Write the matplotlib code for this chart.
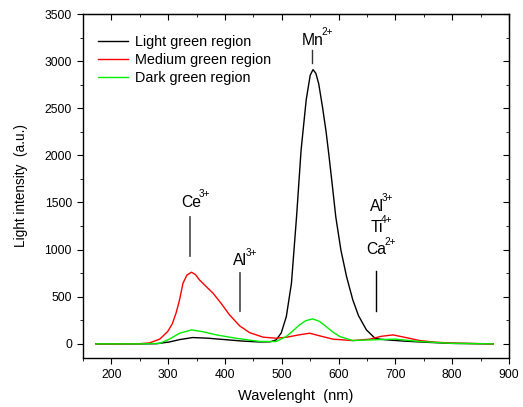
import matplotlib
matplotlib.use('Agg')
import matplotlib.pyplot as plt
from matplotlib.ticker import MultipleLocator

plt.rcParams['font.family'] = ['Liberation Sans', 'DejaVu Sans']

# Light green region (black)
wl_light = [173, 200, 250, 280, 302, 320, 343, 370, 400, 430, 461, 480, 490, 499, 508,
            517, 526, 534, 543, 550, 555, 560, 565, 572, 578, 583, 589, 595, 604, 614, 625,
            635, 649, 664, 672, 690, 713, 750, 800, 872]
int_light = [0, 0, 0, 2, 20, 45, 67, 60, 45, 30, 20, 22, 42, 115, 290,
             643, 1350, 2058, 2590, 2850, 2910, 2870, 2760, 2500, 2250, 2000, 1680, 1350, 997, 714, 467,
             300, 148, 60, 50, 40, 30, 18, 5, 0]

# Medium green region (red)
wl_medium = [173, 200, 250, 267, 285, 299, 307, 314, 320, 326, 333, 341, 348, 355, 361, 370,
             379, 393, 408, 426, 443, 467, 490, 508, 530, 549, 570, 590, 625, 655, 675,
             696, 720, 743, 770, 801, 872]
int_medium = [0, 0, 2, 10, 50, 130, 210, 330, 467, 643, 730, 760, 735, 679, 643, 590,
              537, 431, 307, 190, 120, 71, 60, 70, 95, 113, 80, 50, 35, 50, 80,
              95, 65, 35, 18, 8, 0]

# Dark green region (green)
wl_dark = [173, 200, 250, 285, 302, 320, 341, 360, 385, 419, 461, 490, 508, 520, 531,
           542, 554, 566, 578, 590, 602, 625, 655, 700, 743, 800, 872]
int_dark = [0, 0, 0, 5, 50, 113, 148, 130, 95, 60, 25, 25, 78, 140, 200,
            245, 265, 240, 184, 125, 78, 35, 42, 50, 25, 5, 0]

fig = plt.figure(figsize=(5.23, 4.07), dpi=100)
ax = fig.add_axes([0.1587, 0.1204, 0.8145, 0.8452])

ax.plot(wl_light, int_light, color='black', lw=1.0, label='Light green region')
ax.plot(wl_medium, int_medium, color='red', lw=1.0, label='Medium green region')
ax.plot(wl_dark, int_dark, color='#00ee00', lw=1.0, label='Dark green region')

ax.set_xlim(150, 900)
ax.set_ylim(-150, 3500)
ax.xaxis.set_major_locator(MultipleLocator(100))
ax.xaxis.set_minor_locator(MultipleLocator(50))
ax.yaxis.set_major_locator(MultipleLocator(500))
ax.yaxis.set_minor_locator(MultipleLocator(250))
ax.tick_params(which='both', direction='out', top=False, right=False, labelsize=8.7)
ax.tick_params(which='major', length=4.5)
ax.tick_params(which='minor', length=2.5)
for s in ax.spines.values():
    s.set_linewidth(1.0)

# inward ticks on top and right
sec_x = ax.secondary_xaxis('top')
sec_x.xaxis.set_major_locator(MultipleLocator(100))
sec_x.xaxis.set_minor_locator(MultipleLocator(50))
sec_x.tick_params(which='both', direction='in', labeltop=False)
sec_x.tick_params(which='major', length=4.5)
sec_x.tick_params(which='minor', length=2.5)
sec_y = ax.secondary_yaxis('right')
sec_y.yaxis.set_major_locator(MultipleLocator(500))
sec_y.yaxis.set_minor_locator(MultipleLocator(250))
sec_y.tick_params(which='both', direction='in', labelright=False)
sec_y.tick_params(which='major', length=4.5)
sec_y.tick_params(which='minor', length=2.5)

ax.set_xlabel('Wavelenght  (nm)', fontsize=10.5, labelpad=6)
ax.set_ylabel('Light intensity  (a.u.)', fontsize=9.8, labelpad=12)

ax.legend(loc='upper left', bbox_to_anchor=(0.035, 0.94), frameon=False, fontsize=10.4,
          handlelength=2.1, handletextpad=0.5, labelspacing=0.28,
          borderaxespad=0, borderpad=0)


def ion(x, y, base, sup):
    t = ax.text(x, y, base, ha='center', va='center', fontsize=11.3)
    ax.annotate(sup, xy=(1.0, 0.7), xycoords=t, xytext=(-1.5, 0), textcoords='offset points',
                fontsize=7.2, ha='left', va='bottom')


# peak annotations
ion(340, 1500, 'Ce', '3+')
ax.plot([339, 339], [930, 1350], color='#555555', lw=1.3)
ion(427, 880, 'Al', '3+')
ax.plot([427, 427], [345, 750], color='#555555', lw=1.3)
ion(555, 3220, 'Mn', '2+')
ax.plot([554, 554], [2980, 3120], color='#333333', lw=1.0)
ion(667, 1460, 'Al', '3+')
ion(667, 1230, 'Ti', '4+')
ion(667, 1000, 'Ca', '2+')
ax.plot([665, 665], [350, 770], color='black', lw=1.0)

fig.savefig('out.png', dpi=100)
